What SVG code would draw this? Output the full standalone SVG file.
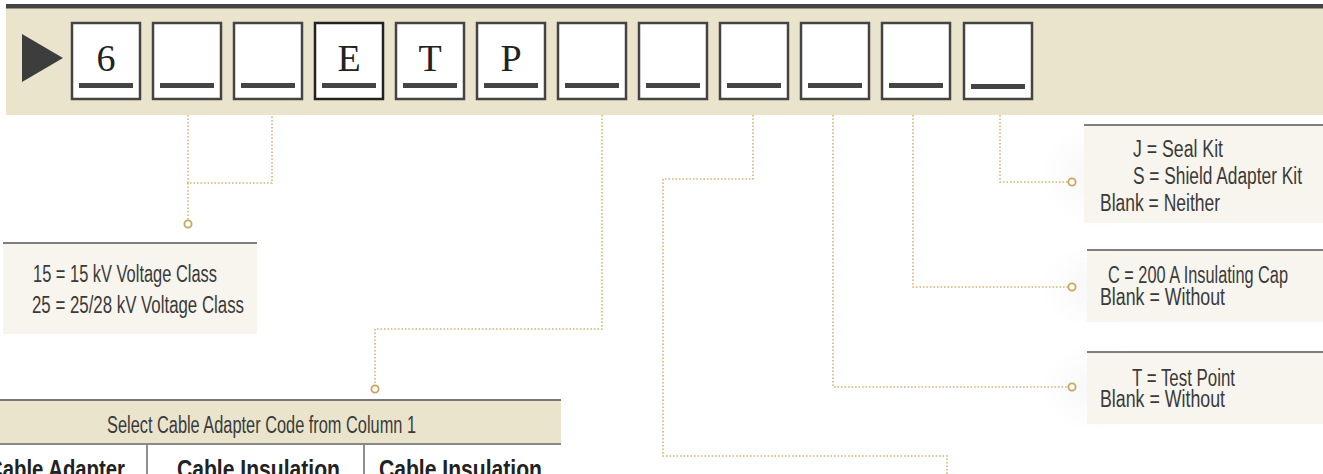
<svg xmlns="http://www.w3.org/2000/svg" width="1323" height="474" viewBox="0 0 1323 474">
<defs>
<style>
.box{fill:#fff;stroke:#444;stroke-width:2.5}
.bar{fill:#444}
.ltr{font-family:"Liberation Serif",serif;font-size:38px;fill:#222;text-anchor:middle}
.dot{fill:none;stroke:#d4b574;stroke-width:1.6;stroke-dasharray:1.6 1.9}
.ring{fill:#fff;stroke:#c9a660;stroke-width:1.8}
.pnl{fill:#f8f5ee}
.pline{stroke:#555;stroke-width:1.5}
.t{font-family:"Liberation Sans",sans-serif;font-size:23px;fill:#3a3a3a}
.b{font-family:"Liberation Sans",sans-serif;font-size:26px;font-weight:bold;fill:#222}
</style>
<radialGradient id="glow" cx="0.5" cy="0.5" r="0.5">
<stop offset="0" stop-color="#000" stop-opacity="0.035"/>
<stop offset="1" stop-color="#000" stop-opacity="0"/>
</radialGradient>
</defs>

<g id="banner">
<rect x="6" y="8" width="1317" height="107" fill="#ebe4cc"/>
<rect x="6" y="4" width="1317" height="4.5" fill="#444"/>
<polygon points="22,34 63,58 22,82" fill="#3d3d3d"/>
</g>

<g id="code-boxes">
<g id="box1"><rect class="box" x="72" y="23" width="68" height="76"/><rect class="bar" x="79" y="83" width="54" height="5"/><text class="ltr" x="106" y="71">6</text></g>
<g id="box2"><rect class="box" x="153" y="23" width="68" height="76"/><rect class="bar" x="160" y="83" width="54" height="5"/></g>
<g id="box3"><rect class="box" x="234" y="23" width="68" height="76"/><rect class="bar" x="241" y="83" width="54" height="5"/></g>
<g id="box4"><rect class="box" x="315" y="23" width="68" height="76" style="stroke:#222"/><rect class="bar" x="322" y="83" width="54" height="5"/><text class="ltr" x="349" y="71">E</text></g>
<g id="box5"><rect class="box" x="396" y="23" width="68" height="76"/><rect class="bar" x="403" y="83" width="54" height="5"/><text class="ltr" x="430" y="71">T</text></g>
<g id="box6"><rect class="box" x="477" y="23" width="68" height="76"/><rect class="bar" x="484" y="83" width="54" height="5"/><text class="ltr" x="511" y="71">P</text></g>
<g id="box7"><rect class="box" x="558" y="23" width="68" height="76"/><rect class="bar" x="565" y="83" width="54" height="5"/></g>
<g id="box8"><rect class="box" x="639" y="23" width="68" height="76"/><rect class="bar" x="646" y="83" width="54" height="5"/></g>
<g id="box9"><rect class="box" x="720" y="23" width="68" height="76"/><rect class="bar" x="727" y="83" width="54" height="5"/></g>
<g id="box10"><rect class="box" x="801" y="23" width="68" height="76"/><rect class="bar" x="808" y="83" width="54" height="5"/></g>
<g id="box11"><rect class="box" x="882" y="23" width="68" height="76"/><rect class="bar" x="889" y="83" width="54" height="5"/></g>
<g id="box12"><rect class="box" x="964" y="23" width="68" height="76"/><rect class="bar" x="971" y="84" width="54" height="5"/></g>
</g>

<g id="panel-voltage">
<rect class="pnl" x="3" y="243" width="254" height="91"/>
<line class="pline" x1="3" y1="243" x2="257" y2="243"/>
<text class="t" x="33" y="282" textLength="184" lengthAdjust="spacingAndGlyphs">15 = 15 kV Voltage Class</text>
<text class="t" x="32" y="313" textLength="212" lengthAdjust="spacingAndGlyphs">25 = 25/28 kV Voltage Class</text>
</g>

<g id="panel-seal">
<ellipse cx="1100" cy="175" rx="60" ry="55" fill="url(#glow)"/>
<rect class="pnl" x="1084" y="125" width="239" height="98"/>
<line class="pline" x1="1084" y1="125" x2="1323" y2="125"/>
<text class="t" x="1133" y="157" textLength="90" lengthAdjust="spacingAndGlyphs">J = Seal Kit</text>
<text class="t" x="1133" y="184" textLength="169" lengthAdjust="spacingAndGlyphs">S = Shield Adapter Kit</text>
<text class="t" x="1100" y="211" textLength="120" lengthAdjust="spacingAndGlyphs">Blank = Neither</text>
</g>

<g id="panel-cap">
<ellipse cx="1100" cy="287" rx="60" ry="45" fill="url(#glow)"/>
<rect class="pnl" x="1087" y="250" width="236" height="72"/>
<line class="pline" x1="1087" y1="250" x2="1323" y2="250"/>
<text class="t" x="1108" y="283" textLength="180" lengthAdjust="spacingAndGlyphs">C = 200 A Insulating Cap</text>
<text class="t" x="1100" y="305" textLength="125" lengthAdjust="spacingAndGlyphs">Blank = Without</text>
</g>

<g id="panel-test">
<ellipse cx="1100" cy="388" rx="60" ry="45" fill="url(#glow)"/>
<rect class="pnl" x="1087" y="352" width="236" height="72"/>
<line class="pline" x1="1087" y1="352" x2="1323" y2="352"/>
<text class="t" x="1132" y="386" textLength="103" lengthAdjust="spacingAndGlyphs">T = Test Point</text>
<text class="t" x="1100" y="407" textLength="125" lengthAdjust="spacingAndGlyphs">Blank = Without</text>
</g>

<g id="table">
<rect x="0" y="400" width="561" height="44" fill="#ebe4cc"/>
<line x1="0" y1="400" x2="561" y2="400" stroke="#777" stroke-width="2"/>
<line x1="0" y1="444" x2="561" y2="444" stroke="#888" stroke-width="2"/>
<text class="t" x="107" y="433" textLength="309" lengthAdjust="spacingAndGlyphs">Select Cable Adapter Code from Column 1</text>
<line x1="147" y1="445" x2="147" y2="474" stroke="#444" stroke-width="1.2"/>
<line x1="364" y1="445" x2="364" y2="474" stroke="#444" stroke-width="1.2"/>
<text class="b" x="-12" y="478" textLength="137" lengthAdjust="spacingAndGlyphs">Cable Adapter</text>
<text class="b" x="177" y="478" textLength="163" lengthAdjust="spacingAndGlyphs">Cable Insulation</text>
<text class="b" x="379" y="478" textLength="163" lengthAdjust="spacingAndGlyphs">Cable Insulation</text>
</g>

<g id="connectors">
<path class="dot" d="M188,115 V183 H272 V115"/>
<path class="dot" d="M188,183 V220"/>
<circle class="ring" cx="188" cy="224" r="3.6"/>
<path class="dot" d="M602,115 V329 H375 V385"/>
<circle class="ring" cx="375" cy="389" r="3.6"/>
<path class="dot" d="M753,115 V179 H663 V456 H947 V474"/>
<path class="dot" d="M833,115 V387 H1068"/>
<circle class="ring" cx="1072" cy="387" r="3.6"/>
<path class="dot" d="M913,115 V287 H1068"/>
<circle class="ring" cx="1072" cy="287" r="3.6"/>
<path class="dot" d="M1000,115 V182 H1068"/>
<circle class="ring" cx="1072" cy="182" r="3.6"/>
</g>
</svg>
